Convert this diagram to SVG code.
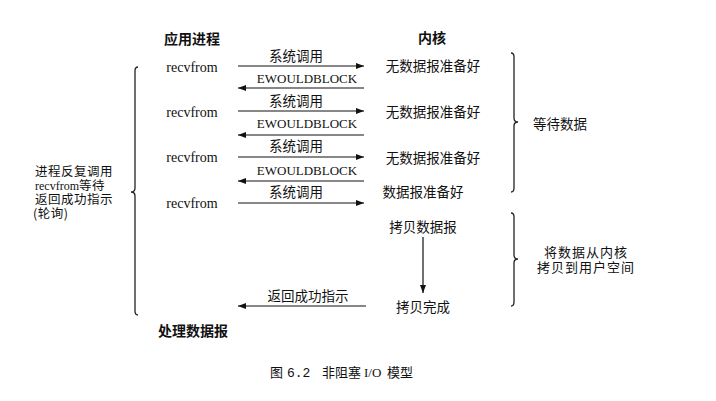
<svg xmlns="http://www.w3.org/2000/svg" width="716" height="401" viewBox="0 0 716 401">
<defs>
<marker id="ah" viewBox="0 0 8 6" refX="8" refY="3" markerWidth="8" markerHeight="6" markerUnits="userSpaceOnUse" orient="auto">
<path d="M0,0 L8,3 L0,6 Z" fill="#111"/>
</marker>
<style>
.zh{font-family:"Noto Sans CJK SC","Noto Sans",sans-serif;font-size:13.5px;fill:#111}
.zhr{font-family:"Noto Sans CJK SC","Noto Sans",sans-serif;font-size:13px;letter-spacing:1px;fill:#111}
.zhl{font-family:"Noto Sans CJK SC","Noto Sans",sans-serif;font-size:13px;fill:#111}
.zhs{font-family:"Noto Sans CJK SC","Noto Sans",sans-serif;font-size:12.5px;letter-spacing:0.5px;fill:#111}
.tt{font-family:"Noto Sans CJK SC","Noto Sans",sans-serif;font-size:14px;font-weight:bold;fill:#111}
.en{font-family:"Liberation Serif","Times New Roman",serif;font-size:14px;fill:#111}
.eb{font-family:"Liberation Serif","Times New Roman",serif;font-size:13px;fill:#111}
.mono{font-family:"Liberation Mono","Courier New",monospace;font-size:13px;fill:#111}
.ln{stroke:#111;stroke-width:1.2;fill:none}
.br{stroke:#222;stroke-width:1.3;fill:none}
</style>
</defs>
<rect width="716" height="401" fill="#fff"/>

<g id="titles">
<text class="tt" x="192" y="44" text-anchor="middle">应用进程</text>
<text class="tt" x="432" y="43" text-anchor="middle">内核</text>
</g>

<g id="app">
<text class="en" x="192" y="72" text-anchor="middle">recvfrom</text>
<text class="en" x="192" y="117" text-anchor="middle">recvfrom</text>
<text class="en" x="192" y="162" text-anchor="middle">recvfrom</text>
<text class="en" x="192" y="208" text-anchor="middle">recvfrom</text>
<text class="tt" x="193" y="336" text-anchor="middle">处理数据报</text>
</g>

<g id="kernel">
<text class="zh" x="433" y="71" text-anchor="middle">无数据报准备好</text>
<text class="zh" x="433" y="117" text-anchor="middle">无数据报准备好</text>
<text class="zh" x="433" y="163" text-anchor="middle">无数据报准备好</text>
<text class="zh" x="423" y="197" text-anchor="middle">数据报准备好</text>
<text class="zh" x="423" y="232" text-anchor="middle">拷贝数据报</text>
<text class="zh" x="423" y="312" text-anchor="middle">拷贝完成</text>
</g>

<g id="left-note">
<text class="zhs"><tspan x="35" y="176">进程反复调用</tspan><tspan x="35" y="190" class="eb" style="font-size:12px;letter-spacing:0">recvfrom</tspan><tspan>等待</tspan><tspan x="35" y="204">返回成功指示</tspan><tspan x="33" y="218">(轮询)</tspan></text>
</g>

<g id="right-notes">
<text class="zh" x="560" y="129" text-anchor="middle">等待数据</text>
<text class="zhr" text-anchor="middle"><tspan x="586" y="257">将数据从内核</tspan><tspan x="586" y="272">拷贝到用户空间</tspan></text>
</g>

<g id="braces">
<path class="br" d="M138,67 Q135,67 135,71 L135,188 Q135,192 131,192 Q135,192 135,196 L135,311 Q135,315 138,315"/>
<path class="br" d="M511,53 Q514,53 514,57 L514,118 Q514,122 518,122 Q514,122 514,126 L514,188 Q514,192 511,192"/>
<path class="br" d="M511,213 Q514,213 514,217 L514,255 Q514,259 518,259 Q514,259 514,263 L514,302 Q514,306 511,306"/>
</g>

<g id="connectors">
<path class="ln" d="M238,66 H364" marker-end="url(#ah)"/>
<path class="ln" d="M364,88 H238" marker-end="url(#ah)"/>
<path class="ln" d="M238,111 H364" marker-end="url(#ah)"/>
<path class="ln" d="M364,135 H238" marker-end="url(#ah)"/>
<path class="ln" d="M238,157 H364" marker-end="url(#ah)"/>
<path class="ln" d="M364,181 H238" marker-end="url(#ah)"/>
<path class="ln" d="M238,203 H364" marker-end="url(#ah)"/>
<path class="ln" d="M423,237 V293" marker-end="url(#ah)"/>
<path class="ln" d="M366,306 H238" marker-end="url(#ah)"/>
</g>

<g id="connector-labels">
<text class="zh" x="296" y="61" text-anchor="middle">系统调用</text>
<text class="eb" x="307" y="83" text-anchor="middle">EWOULDBLOCK</text>
<text class="zh" x="296" y="106" text-anchor="middle">系统调用</text>
<text class="eb" x="307" y="128" text-anchor="middle">EWOULDBLOCK</text>
<text class="zh" x="296" y="151" text-anchor="middle">系统调用</text>
<text class="eb" x="307" y="175" text-anchor="middle">EWOULDBLOCK</text>
<text class="zh" x="296" y="197" text-anchor="middle">系统调用</text>
<text class="zh" x="308" y="301" text-anchor="middle">返回成功指示</text>
</g>

<g id="caption">
<text class="zhl" x="270" y="377">图</text>
<text class="mono" x="287" y="377">6.2</text>
<text class="zhl" x="322" y="377">非阻塞</text>
<text class="eb" x="364" y="377">I/O</text>
<text class="zhl" x="387" y="377">模型</text>
</g>
</svg>
